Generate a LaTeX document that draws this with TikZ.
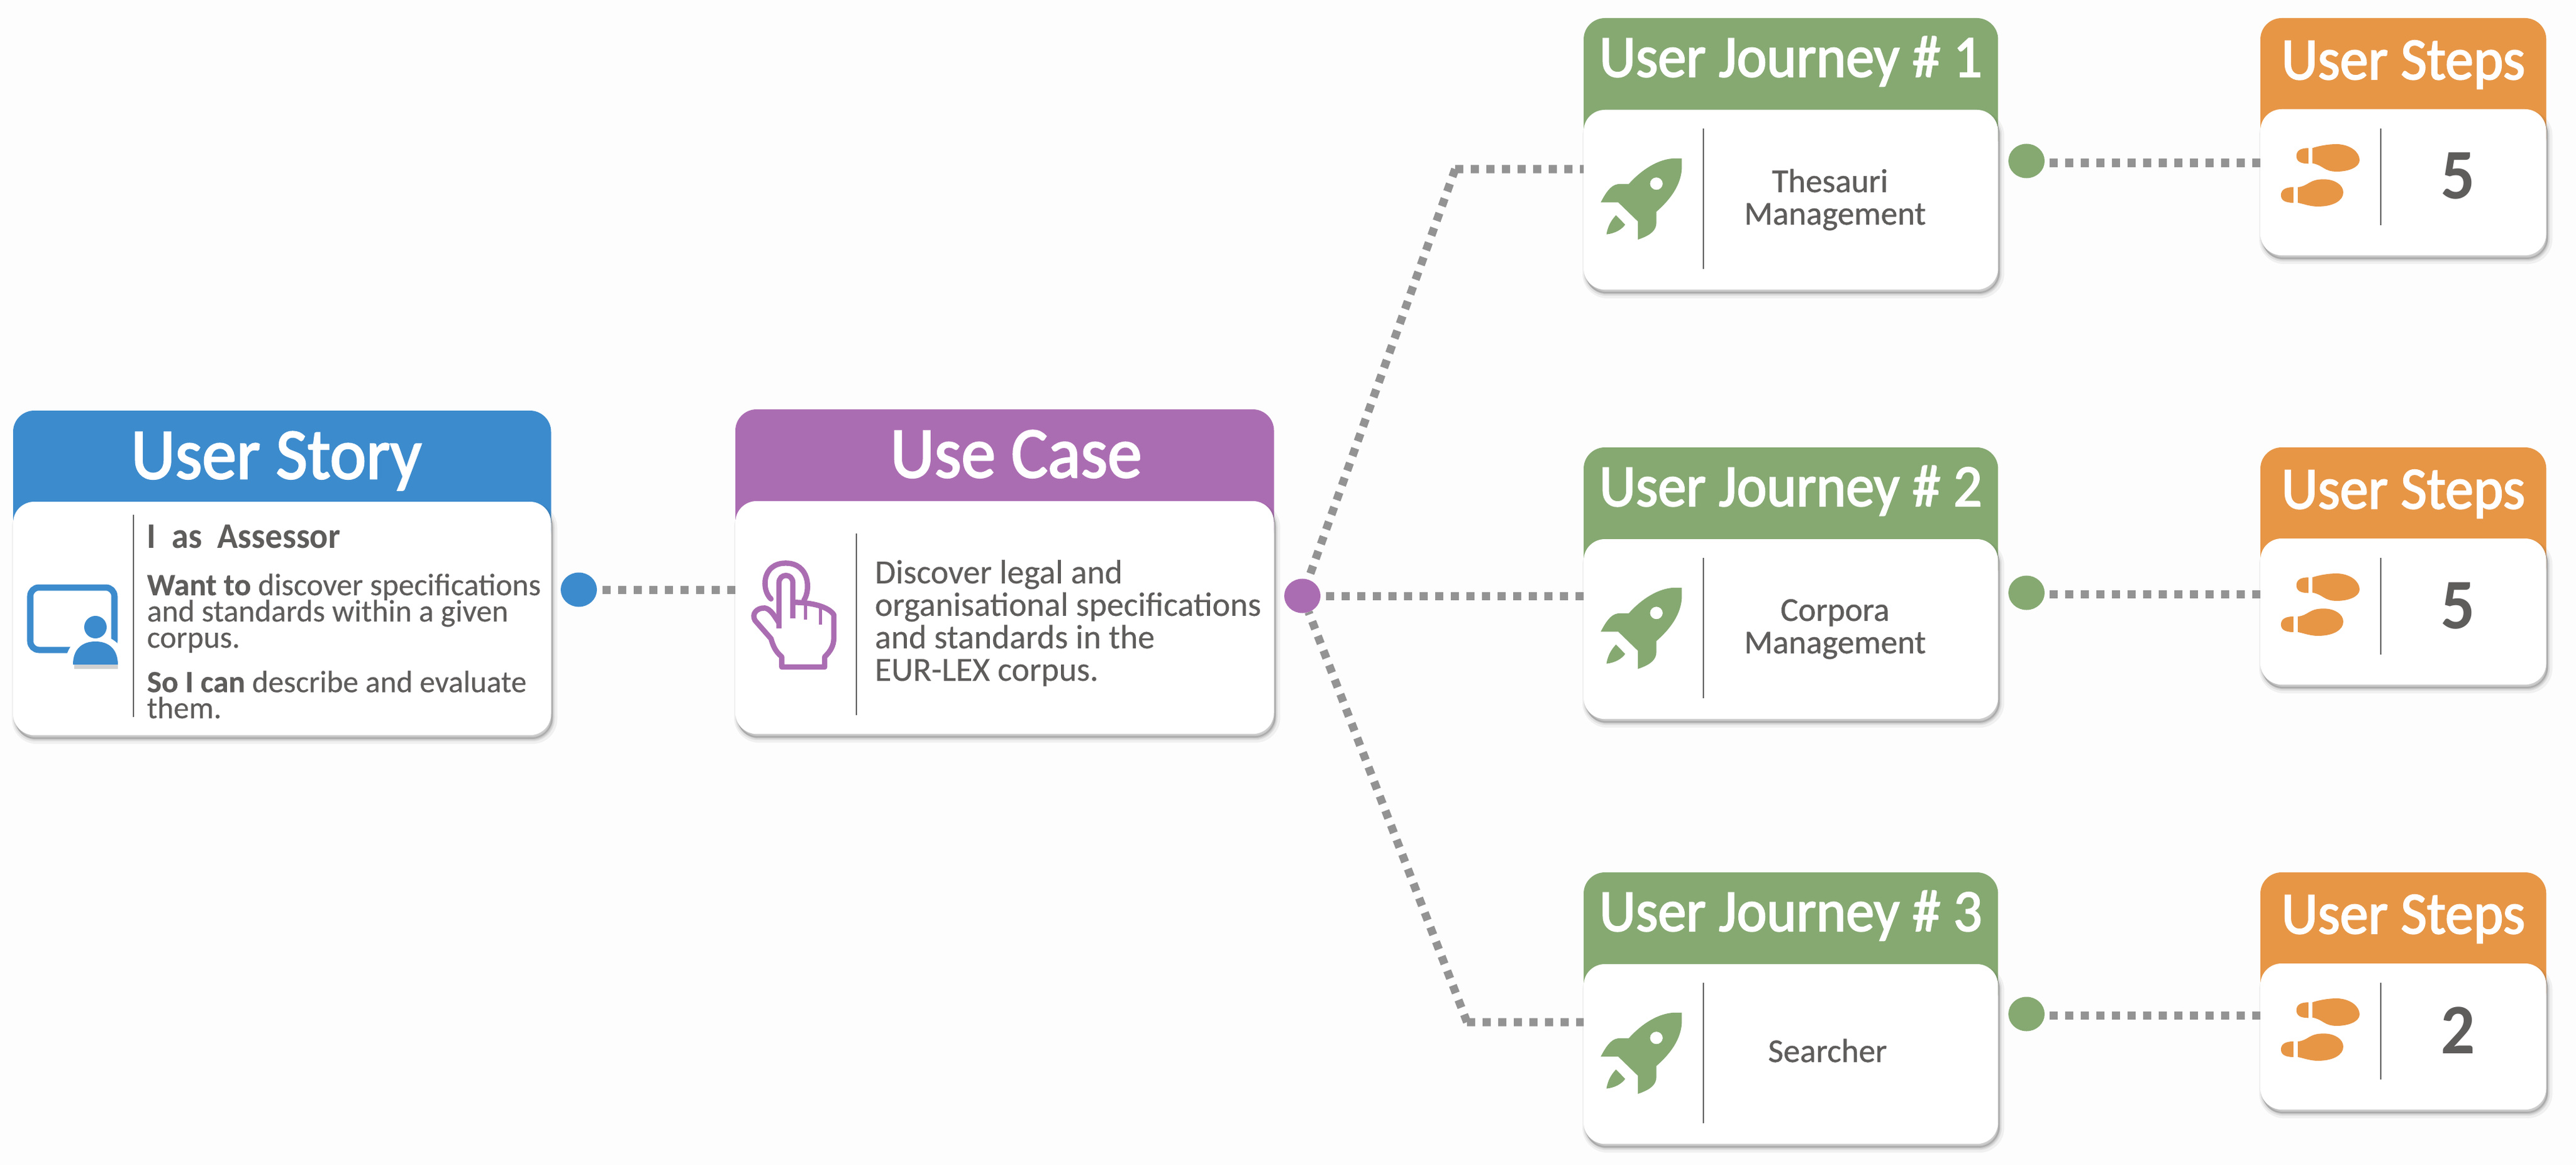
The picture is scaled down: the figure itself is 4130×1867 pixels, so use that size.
\documentclass[tikz,border=0pt]{standalone}
\usepackage{fontspec}
\setmainfont[FakeStretch=0.95]{Carlito}
\newfontfamily\cardfont[FakeBold=0.25]{Carlito}
\newfontfamily\namefont[FakeBold=0.7]{Carlito}
\newfontfamily\headfont[FakeStretch=0.95,FakeBold=2.2]{Carlito}
\usetikzlibrary{shapes.geometric}
\definecolor{cblue}{HTML}{3C8BCD}
\definecolor{cpurple}{HTML}{AB6DB2}
\definecolor{cgreen}{HTML}{86A972}
\definecolor{corange}{HTML}{E79646}
\definecolor{ctext}{HTML}{5F5C5C}
\definecolor{cdots}{HTML}{939393}
\definecolor{cdiv}{HTML}{5F5F5F}
\definecolor{cpage}{HTML}{FDFDFD}
\tikzset{
  x=0.01cm,y=-0.01cm,
  softshadow/.style={
    preaction={fill=black,draw=black,fill opacity=.05,draw opacity=.05,line width=.12cm,transform canvas={xshift=.04cm,yshift=-.08cm}},
    preaction={fill=black,draw=black,fill opacity=.07,draw opacity=.07,line width=.06cm,transform canvas={xshift=.03cm,yshift=-.07cm}},
    preaction={fill=black,draw=black,fill opacity=.08,draw opacity=.08,line width=.02cm,transform canvas={xshift=.02cm,yshift=-.05cm}}},
  header/.style={rectangle,rounded corners=.34cm,fill=#1,inner sep=0,outer sep=0,anchor=north west},
  cardbody/.style={rectangle,rounded corners=.34cm,fill=white,inner sep=0,outer sep=0,anchor=north west,softshadow},
  bigtitle/.style={anchor=base,inner sep=0,text=white,font=\headfont\fontsize{33}{36}\selectfont},
  smalltitle/.style={anchor=base,inner sep=0,text=white,font=\headfont\fontsize{27.2}{30}\selectfont},
  bodytext/.style={inner sep=0,text=ctext,align=left,anchor=base west},
  jtext/.style={inner sep=0,text=ctext,align=center,anchor=base,font=\namefont\fontsize{15.2}{14.8}\selectfont},
  numtext/.style={inner sep=0,text=ctext,anchor=base,font=\bfseries\fontsize{32.4}{36}\selectfont},
  divider/.style={draw=cdiv,line width=.02cm},
  hub/.style={ellipse,fill=#1,inner sep=0,outer sep=0,minimum width=.58cm,minimum height=.55cm},
  conn/.style={draw=cdots,line width=.13cm,dash pattern=on .13cm off .12cm},
}
\newcommand\journeycard[5]{%
  \begin{scope}[shift={(0,#2)}]
    \node[header=cgreen,minimum width=6.64cm,minimum height=2.27cm] (j#1head) at (2539,0) {};
    \node[cardbody,minimum width=6.64cm,minimum height=2.88cm] (j#1body) at (2539,147) {};
    \node[smalltitle] (j#1title) at (2871,94) {#3};
    \draw[divider] (2731,177) -- (2731,402);
    \node[jtext] (j#1text) at #4 {#5};
    \begin{scope}[shift={(2500,-29)},xscale=.5102,yscale=.3333]
      \fill[cgreen,even odd rule] (385,762) -- (355,762) .. controls (300,770) and (250,830) .. (218,885)
        -- (185,885) .. controls (160,890) and (145,930) .. (130,973) -- (185,973) -- (247,1065) -- (247,1152)
        .. controls (290,1130) and (305,1105) .. (305,1070) -- (305,1018)
        .. controls (345,965) and (385,890) .. (385,800) -- cycle
        (305,883) ellipse [x radius=20,y radius=30];
      \fill[cgreen] (178,1035) -- (207,1080) .. controls (195,1105) and (175,1122) .. (148,1127)
        .. controls (152,1090) and (162,1060) .. (178,1035) -- cycle;
    \end{scope}
  \end{scope}}
\newcommand\stepscard[3]{%
  \begin{scope}[shift={(0,#2)}]
    \node[header=corange,minimum width=4.58cm,minimum height=2.26cm] (s#1head) at (3624,0) {};
    \node[cardbody,minimum width=4.58cm,minimum height=2.34cm] (s#1body) at (3624,146) {};
    \node[smalltitle] (s#1title) at (3853,98) {User Steps};
    \draw[divider] (3817,177) -- (3817,332);
    \node[numtext] (s#1num) at (3941,290) {#3};
    \begin{scope}[shift={(3180,-29)},xscale=.606,yscale=.3333]
      \fill[corange] (870,712) .. controls (890,700) and (915,693) .. (935,693)
        .. controls (970,695) and (995,730) .. (995,770) .. controls (995,805) and (965,825) .. (935,825)
        .. controls (900,825) and (900,795) .. (870,785) -- cycle;
      \fill[corange] (860,712) .. controls (838,712) and (828,725) .. (828,750)
        .. controls (828,775) and (838,787) .. (860,787) -- cycle;
      \fill[corange] (832,900) .. controls (860,895) and (860,862) .. (900,862)
        .. controls (930,862) and (952,890) .. (952,925) .. controls (952,965) and (925,993) .. (885,993)
        .. controls (865,993) and (850,982) .. (832,975) -- cycle;
      \fill[corange] (820,900) .. controls (797,900) and (787,915) .. (787,938)
        .. controls (787,962) and (797,975) .. (820,975) -- cycle;
    \end{scope}
  \end{scope}}
\begin{document}
\begin{tikzpicture}
\lineskiplimit=-100pt\relax
\useasboundingbox (0,0) rectangle (4130,1867);
\fill[cpage] (0,0) rectangle (4130,1867);

% User Story
\node[header=cblue,minimum width=8.62cm,minimum height=2.26cm] (ushead) at (21,658) {};
\node[cardbody,minimum width=8.62cm,minimum height=3.74cm] (usbody) at (21,804) {};
\node[bigtitle] (ustitle) at (443,767) {User Story};
\draw[divider] (214,825) -- (214,1149);
\node[bodytext,font=\bfseries\fontsize{16.4}{16}\selectfont] (usrole) at (235,878) {I\ \ as\ \ Assessor};
\node[bodytext,font=\cardfont\fontsize{14.2}{11.95}\selectfont] (uswant) at (235,1038) {\textbf{Want to} discover specifications\\and standards within a given\\corpus.};
\node[bodytext,font=\cardfont\fontsize{14.1}{11.85}\selectfont] (ussoican) at (235,1151) {\textbf{So I can} describe and evaluate\\them.};
% presenter icon
\draw[cblue,line width=.1cm,rounded corners=.14cm] (48.5,941.5) rectangle (183.5,1041.5);
\fill[black,opacity=.18] (119,1064) rectangle (189,1072);
\fill[white] (105,1065) .. controls (105,1035) and (125,1018) .. (153,1018) .. controls (181,1018) and (201,1035) .. (201,1065) -- cycle;
\fill[cblue] (153,1005) circle [radius=18];
\fill[cblue] (117,1065) .. controls (117,1040) and (132,1028) .. (153,1028) .. controls (174,1028) and (189,1040) .. (189,1065) -- cycle;
\node[hub=cblue] (usdot) at (928,945) {};

% Use Case
\node[header=cpurple,minimum width=8.63cm,minimum height=2.27cm] (uchead) at (1179,656) {};
\node[cardbody,minimum width=8.63cm,minimum height=3.73cm] (ucbody) at (1179,803) {};
\node[bigtitle] (uctitle) at (1629,765) {Use Case};
\draw[divider] (1373,855) -- (1373,1146);
\node[bodytext,font=\cardfont\fontsize{15.4}{14.8}\selectfont] (uctext) at (1402,1091) {Discover legal and\\organisational specifications\\and standards in the\\EUR-LEX corpus.};
\begin{scope}[shift={(1150,640)},xscale=.6378,yscale=.3635]
  \draw[cpurple,line width=.085cm,line join=round,line cap=round]
    (135,880) .. controls (110,840) and (112,722) .. (172,722) .. controls (232,722) and (235,840) .. (218,885);
  \draw[cpurple,line width=.085cm,line join=round]
    (155,1010) -- (155,810) .. controls (155,765) and (190,765) .. (190,810) -- (190,965);
  \draw[cpurple,line width=.085cm,line join=round]
    (190,895) .. controls (240,895) and (280,915) .. (293,950) -- (293,1050)
    .. controls (293,1085) and (285,1110) .. (270,1135) -- (270,1180) -- (162,1180) -- (162,1135)
    .. controls (145,1110) and (140,1085) .. (135,1055) -- (95,975)
    .. controls (85,945) and (100,918) .. (120,920) .. controls (135,925) and (145,960) .. (155,985);
  \draw[cpurple,line width=.05cm] (222,905) -- (222,972) (260,920) -- (260,992);
\end{scope}
\node[hub=cpurple] (ucdot) at (2088,955) {};

% User Journeys and steps
\journeycard{1}{29}{User Journey \# 1}{(2942,331)}{Thesauri\hspace*{.16cm}\\Management}
\journeycard{2}{717}{User Journey \# 2}{(2942,330)}{Corpora\\Management}
\journeycard{3}{1398}{User Journey \# 3}{(2930,304)}{Searcher}
\stepscard{1}{29}{5}
\stepscard{2}{717}{5}
\stepscard{3}{1398}{2}
\node[hub=cgreen] (j1dot) at (3249,258) {};
\node[hub=cgreen] (j2dot) at (3249,950) {};
\node[hub=cgreen] (j3dot) at (3249,1625) {};

% connectors
\coordinate (ucin) at (1179,945);
\coordinate (elbowa) at (2333,271);
\coordinate (elbowc) at (2352,1638);
\coordinate (sa) at (3624,261);
\coordinate (sb) at (3624,952);
\coordinate (sc) at (3624,1627);
\draw[conn] (ucin) -- (usdot.east |- ucin);
\draw[conn] (j2body.west |- ucdot) -- (ucdot.east);
\draw[conn] (elbowa) -- (ucdot) (elbowa) -- (j1body.west |- elbowa);
\draw[conn] (elbowc) -- (ucdot) (elbowc) -- (j3body.west |- elbowc);
\draw[conn] (sa) -- (j1dot.east |- sa);
\draw[conn] (sb) -- (j2dot.east |- sb);
\draw[conn] (sc) -- (j3dot.east |- sc);
\end{tikzpicture}
\end{document}
